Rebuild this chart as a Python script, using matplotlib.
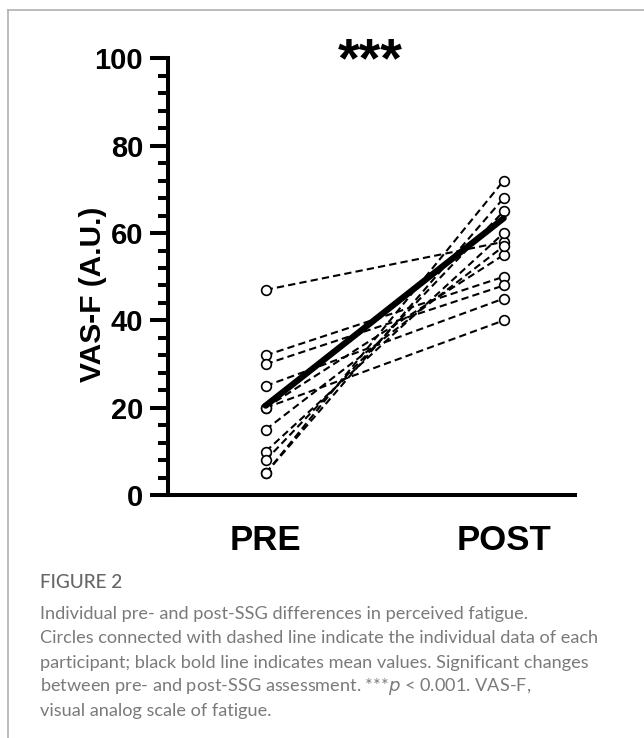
import matplotlib.pyplot as plt
from matplotlib.lines import Line2D
from matplotlib.ticker import MultipleLocator

# Individual VAS-F values
pre_values = [47, 32, 30, 25, 20, 20, 15, 10, 8, 5, 5]
post_values = [58, 50, 48, 45, 40, 55, 57, 60, 65, 68, 72]
mean_pre = 20.5
mean_post = 63.4
conditions = ['PRE', 'POST']
y_ticks = [0, 20, 40, 60, 80, 100]

caption_title = 'FIGURE 2'
caption_lines = [
    'Individual pre- and post-SSG differences in perceived fatigue.',
    'Circles connected with dashed line indicate the individual data of each',
    'participant; black bold line indicates mean values. Significant changes',
    'between pre- and post-SSG assessment. ***$\\mathit{p}$ < 0.001. VAS-F,',
    'visual analog scale of fatigue.',
]

plt.rcParams['font.family'] = ['Liberation Sans', 'DejaVu Sans']

fig = plt.figure(figsize=(6.44, 7.38), dpi=100)
ax = fig.add_axes([0.261, 0.329, 0.632, 0.592])

x = [0, 1]
for a, b in zip(pre_values, post_values):
    ax.plot(x, [a, b], color='black', linestyle=(0, (3.5, 2.0)), linewidth=1.5,
            marker='o', markersize=7, markerfacecolor='white',
            markeredgecolor='black', markeredgewidth=1.2, zorder=3, clip_on=False)

ax.plot(x, [mean_pre, mean_post], color='black', linewidth=4.5,
        solid_capstyle='round', zorder=4, clip_on=False)

ax.set_xlim(-0.41, 1.30)
ax.set_ylim(0, 100)
ax.set_xticks(x)
ax.set_xticklabels(conditions, fontsize=25, fontweight='bold')
ax.set_yticks(y_ticks)
ax.set_yticklabels([str(v) for v in y_ticks], fontsize=21, fontweight='bold')
ax.yaxis.set_minor_locator(MultipleLocator(4))
ax.tick_params(axis='y', which='major', length=13, width=2.9, pad=5)
ax.tick_params(axis='y', which='minor', length=7, width=2.9)
ax.tick_params(axis='x', length=0, pad=21)
ax.set_ylabel('VAS-F (A.U.)', fontsize=21.5, fontweight='bold')
ax.yaxis.set_label_coords(-0.15, 0.46)

for side in ['top', 'right']:
    ax.spines[side].set_visible(False)
for side in ['left', 'bottom']:
    ax.spines[side].set_linewidth(2.9)
    ax.spines[side].set_capstyle('projecting')

ax.text(0.44, 96, '***', ha='center', va='baseline', fontsize=40,
        fontweight='bold', clip_on=False)

# caption
fig.text(40 / 644, 1 - 583 / 738, caption_title, fontsize=13.7, color='#666666',
         family='Lato', fontweight='medium', va='center', ha='left')
for i, line in enumerate(caption_lines):
    fig.text(40 / 644, 1 - (614 + i * 24.3) / 738, line, fontsize=13.1,
             color='#7a7a7a', family='Lato', va='center', ha='left')

# card border
fig.add_artist(Line2D([8 / 644, 1], [1 - 10 / 738, 1 - 10 / 738],
                      transform=fig.transFigure, color='#b0b0b0', linewidth=1.2))
fig.add_artist(Line2D([8 / 644, 8 / 644], [0, 1 - 10 / 738],
                      transform=fig.transFigure, color='#b0b0b0', linewidth=1.2))

fig.savefig('out.png', dpi=100)
